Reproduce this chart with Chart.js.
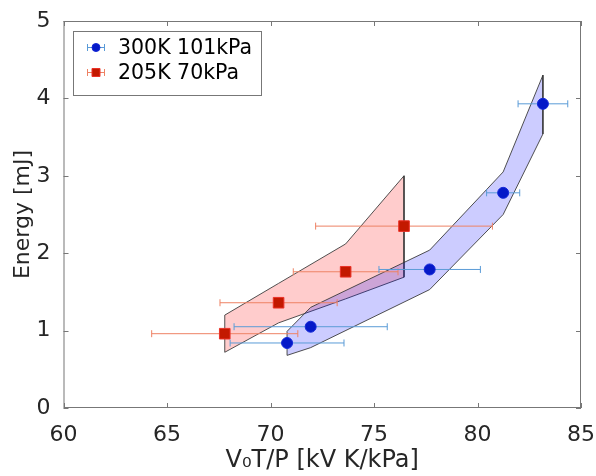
<!DOCTYPE html>
<html lang="en">
<head>
<meta charset="UTF-8">
<script src="https://cdn.jsdelivr.net/npm/chart.js"></script>
<title>Energy vs V0T/P</title>
<style>
  body { margin: 0; background: #fff; }
</style>
</head>
<body>
<canvas id="energyChart" width="596" height="476"></canvas>

<script>
// 300K 101kPa
const blueX = [70.8, 71.94, 77.69, 81.24, 83.16];
const blueY = [0.84, 1.05, 1.79, 2.78, 3.93];
const blueXErr = [2.75, 3.7, 2.45, 0.8, 1.2];
const blueUpper = [0.99, 1.30, 2.04, 3.05, 4.30];
const blueLower = [0.68, 0.78, 1.53, 2.50, 3.54];

// 205K 70kPa
const redX = [67.79, 70.39, 73.63, 76.45];
const redY = [0.96, 1.36, 1.76, 2.35];
const redXErr = [3.53, 2.83, 2.53, 4.27];
const redUpper = [1.20, 1.61, 2.12, 3.00];
const redLower = [0.72, 1.10, 1.41, 1.69];

const seriesNames = ['300K 101kPa', '205K 70kPa'];
const xTicks = [60, 65, 70, 75, 80, 85];
const yTicks = [0, 1, 2, 3, 4, 5];

const axisColor = '#777';
const textColor = '#262626';
const fontFamily = '"DejaVu Sans", sans-serif';

function points(xs, ys) {
  return xs.map((x, i) => ({ x: x, y: ys[i] }));
}

// closed outline: upper edge left to right, lower edge back, then close
function band(xs, upper, lower) {
  const pts = points(xs, upper);
  for (let i = xs.length - 1; i >= 0; i--) pts.push({ x: xs[i], y: lower[i] });
  pts.push({ x: xs[0], y: upper[0] });
  return pts;
}

// horizontal error bars with caps, drawn just under the markers
const errorBars = {
  id: 'errorBars',
  beforeDatasetDraw(chart, args) {
    const ds = chart.data.datasets[args.index];
    if (!ds.xErr) return;
    const { ctx, scales: { x, y } } = chart;
    ctx.save();
    ctx.strokeStyle = ds.errColor;
    ctx.lineWidth = 1;
    ds.data.forEach((p, i) => {
      const x0 = x.getPixelForValue(p.x - ds.xErr[i]);
      const x1 = x.getPixelForValue(p.x + ds.xErr[i]);
      const py = y.getPixelForValue(p.y);
      ctx.beginPath();
      ctx.moveTo(x0, py); ctx.lineTo(x1, py);
      ctx.moveTo(x0, py - 3.5); ctx.lineTo(x0, py + 3.5);
      ctx.moveTo(x1, py - 3.5); ctx.lineTo(x1, py + 3.5);
      ctx.stroke();
    });
    ctx.restore();
  }
};

// matlab style box with inward ticks on all four sides
const axesBox = {
  id: 'axesBox',
  afterDatasetsDraw(chart) {
    const { ctx, chartArea: a, scales: { x, y } } = chart;
    ctx.save();
    ctx.strokeStyle = axisColor;
    ctx.lineWidth = 1;
    ctx.strokeRect(a.left + 0.5, a.top + 0.5, a.right - a.left - 1, a.bottom - a.top - 1);
    ctx.beginPath();
    xTicks.forEach(v => {
      const px = Math.round(x.getPixelForValue(v)) + 0.5;
      ctx.moveTo(px, a.bottom); ctx.lineTo(px, a.bottom - 5);
      ctx.moveTo(px, a.top); ctx.lineTo(px, a.top + 5);
    });
    yTicks.forEach(v => {
      const py = Math.round(y.getPixelForValue(v)) + 0.5;
      ctx.moveTo(a.left, py); ctx.lineTo(a.left + 5, py);
      ctx.moveTo(a.right, py); ctx.lineTo(a.right - 5, py);
    });
    ctx.stroke();
    ctx.restore();
  }
};

// legend box in the upper left corner
const legendBox = {
  id: 'legendBox',
  afterDraw(chart) {
    const { ctx } = chart;
    const markers = chart.data.datasets.filter(d => d.xErr);
    ctx.save();
    ctx.fillStyle = '#fff';
    ctx.fillRect(73.5, 31.5, 188, 64);
    ctx.strokeStyle = axisColor;
    ctx.lineWidth = 1;
    ctx.strokeRect(73.5, 31.5, 188, 64);
    markers.forEach((ds, i) => {
      const cy = 47.5 + i * 25;
      ctx.strokeStyle = ds.errColor;
      ctx.beginPath();
      ctx.moveTo(87, cy); ctx.lineTo(105, cy);
      ctx.moveTo(87.5, cy - 3.5); ctx.lineTo(87.5, cy + 3.5);
      ctx.moveTo(104.5, cy - 3.5); ctx.lineTo(104.5, cy + 3.5);
      ctx.stroke();
      ctx.fillStyle = ds.backgroundColor;
      ctx.strokeStyle = ds.borderColor;
      ctx.beginPath();
      if (ds.pointStyle === 'rect') ctx.rect(92, cy - 4, 8, 8);
      else ctx.arc(96, cy, 4, 0, Math.PI * 2);
      ctx.fill();
      ctx.stroke();
      ctx.fillStyle = '#000';
      ctx.font = '20.5px ' + fontFamily;
      ctx.textBaseline = 'middle';
      ctx.fillText(ds.label, 118, cy + 1);
    });
    ctx.restore();
  }
};

const ctx = document.getElementById('energyChart').getContext('2d');

const energyChart = new Chart(ctx, {
  type: 'scatter',
  data: {
    datasets: [
      {
        label: seriesNames[0],
        data: points(blueX, blueY),
        xErr: blueXErr,
        errColor: 'rgb(90,155,215)',
        pointStyle: 'circle',
        pointRadius: 5.5,
        backgroundColor: 'rgb(5,25,200)',
        borderColor: 'rgb(20,40,215)',
        borderWidth: 1,
        order: 0
      },
      {
        label: seriesNames[1],
        data: points(redX, redY),
        xErr: redXErr,
        errColor: 'rgb(238,130,100)',
        pointStyle: 'rect',
        pointRadius: 7.5,
        backgroundColor: 'rgb(195,25,0)',
        borderColor: 'rgb(235,50,40)',
        borderWidth: 1,
        order: 1
      },
      {
        label: 'band blue',
        data: band(blueX, blueUpper, blueLower),
        showLine: true,
        fill: 'shape',
        pointRadius: 0,
        borderColor: 'rgba(50,50,50,0.85)',
        borderWidth: 1,
        backgroundColor: 'rgba(0,0,255,0.2)',
        order: 2
      },
      {
        label: 'band red',
        data: band(redX, redUpper, redLower),
        showLine: true,
        fill: 'shape',
        pointRadius: 0,
        borderColor: 'rgba(50,50,50,0.85)',
        borderWidth: 1,
        backgroundColor: 'rgba(255,0,0,0.2)',
        order: 3
      }
    ]
  },
  options: {
    responsive: false,
    animation: false,
    layout: { padding: { top: 21, right: 15, left: 0, bottom: 0 } },
    plugins: {
      legend: { display: false },
      tooltip: { enabled: false }
    },
    scales: {
      x: {
        type: 'linear',
        min: 60,
        max: 85,
        grid: { display: false, drawTicks: false },
        border: { display: false },
        afterBuildTicks: s => { s.ticks = xTicks.map(v => ({ value: v })); },
        afterFit: s => { s.height = 68; s.paddingLeft = 0; s.paddingRight = 0; },
        ticks: { color: textColor, padding: 14, maxRotation: 0, font: { family: fontFamily, size: 22 } },
        title: {
          display: true,
          text: 'V\u2080T/P [kV K/kPa]',
          color: textColor,
          padding: { top: 0, bottom: 1 },
          font: { family: fontFamily, size: 24 }
        }
      },
      y: {
        type: 'linear',
        min: 0,
        max: 5,
        grid: { display: false, drawTicks: false },
        border: { display: false },
        afterBuildTicks: s => { s.ticks = yTicks.map(v => ({ value: v })); },
        afterFit: s => { s.width = 63.5; s.paddingTop = 0; s.paddingBottom = 0; },
        ticks: { color: textColor, padding: 13, font: { family: fontFamily, size: 22 } },
        title: {
          display: true,
          text: 'Energy [mJ]',
          color: textColor,
          padding: { top: 10, bottom: 0 },
          font: { family: fontFamily, size: 22 }
        }
      }
    }
  },
  plugins: [errorBars, axesBox, legendBox]
});
</script>
</body>
</html>
